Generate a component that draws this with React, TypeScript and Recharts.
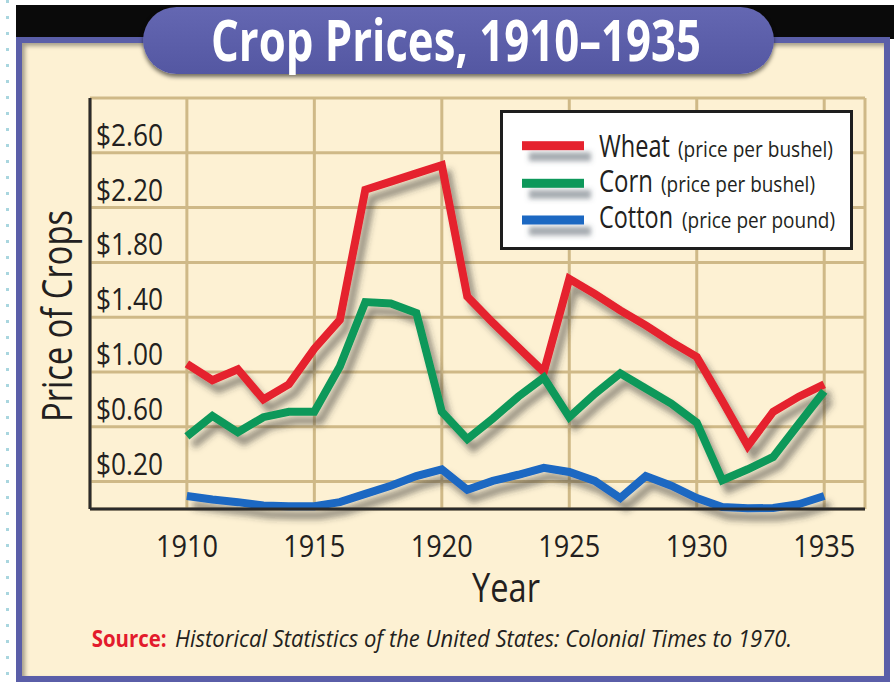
import { LineChart, Line, XAxis, YAxis, CartesianGrid, Legend } from 'recharts'

const YEARS = [
  1910, 1911, 1912, 1913, 1914, 1915, 1916, 1917, 1918, 1919, 1920, 1921, 1922,
  1923, 1924, 1925, 1926, 1927, 1928, 1929, 1930, 1931, 1932, 1933, 1934, 1935,
]
// dollars per bushel
const WHEAT = [
  1.06, 0.94, 1.02, 0.8, 0.91, 1.17, 1.38, 2.33, 2.39, 2.45, 2.51, 1.55, 1.36,
  1.18, 1.0, 1.68, 1.57, 1.45, 1.34, 1.22, 1.11, 0.79, 0.46, 0.71, 0.82, 0.91,
]
const CORN = [
  0.53, 0.68, 0.56, 0.67, 0.71, 0.71, 1.04, 1.51, 1.5, 1.43, 0.71, 0.51, 0.66,
  0.82, 0.96, 0.67, 0.84, 0.99, 0.88, 0.77, 0.63, 0.21, 0.29, 0.38, 0.62, 0.86,
]
// dollars per pound
const COTTON = [
  0.095, 0.07, 0.05, 0.025, 0.02, 0.02, 0.05, 0.11, 0.17, 0.24, 0.29, 0.14, 0.205,
  0.25, 0.3, 0.27, 0.205, 0.08, 0.24, 0.17, 0.08, 0.015, 0.005, 0.008, 0.035, 0.095,
]

const X_TICKS = [1910, 1915, 1920, 1925, 1930, 1935]
const Y_TICKS = [0.2, 0.6, 1.0, 1.4, 1.8, 2.2, 2.6]

const CROPS = ['Wheat', 'Corn', 'Cotton']
const UNITS = ['(price per bushel)', '(price per bushel)', '(price per pound)']

const data = YEARS.map((year, i) => ({
  year,
  wheat: WHEAT[i],
  corn: CORN[i],
  cotton: COTTON[i],
}))

const W = 894
const H = 683
const FONT = "'Open Sans', sans-serif"
const INK = '#231f20'
const FRAME = '#5a5ea8'
const COLORS: Record<string, string> = {
  Wheat: '#e5202e',
  Corn: '#11985a',
  Cotton: '#1b67c2',
}

// condensed text: squeeze horizontally so it spans `width` px like the narrow original face
function Fit({ x, y, width, sx, anchor = 'start', rotate = 0, children, ...rest }: any) {
  return (
    <text
      transform={`translate(${x} ${y}) rotate(${rotate}) scale(${sx} 1)`}
      x={0}
      y={0}
      textAnchor={anchor}
      textLength={width / sx}
      lengthAdjust="spacingAndGlyphs"
      fontFamily={FONT}
      {...rest}
    >
      {children}
    </text>
  )
}

function YTick({ x, y, payload }: any) {
  return (
    <Fit x={x + 6} y={y - 7} width={67} sx={0.85} fill={INK} fontSize={31}>
      {`$${payload.value.toFixed(2)}`}
    </Fit>
  )
}

function XTick({ x, y, payload }: any) {
  return (
    <Fit x={x} y={y + 48} width={62} sx={0.87} anchor="middle" fill={INK} fontSize={31}>
      {payload.value}
    </Fit>
  )
}

// legend rows: swatch centre, text baseline, label widths
const ROW_CY = [35.7, 73.3, 110]
const ROW_BASE = [46.7, 82.3, 118.3]
const NAME_LEN = [71, 54, 74]
const UNIT_X = [178, 161, 182]
const UNIT_LEN = [155, 154, 153]

function CropLegend({ payload }: any) {
  const entries = CROPS.map((name, i) => {
    const p = (payload || []).find((e: any) => e.value === name)
    return { name, unit: UNITS[i], color: p?.color ?? COLORS[name] }
  })
  return (
    <svg width={353} height={140} style={{ display: 'block', overflow: 'visible' }}>
      <defs>
        <filter id="legendShadow" filterUnits="userSpaceOnUse" x={0} y={0} width={353} height={140}>
          <feDropShadow dx={7} dy={11} stdDeviation={2.5} floodColor="#4a5560" floodOpacity={0.5} />
        </filter>
      </defs>
      <rect x={1.5} y={1.5} width={350} height={137} fill="#fff" stroke="#1e1e1e" strokeWidth={3} />
      {entries.map((e, i) => (
        <g key={e.name}>
          <rect x={22} y={ROW_CY[i] - 4.5} width={62} height={9} fill={e.color} filter="url(#legendShadow)" />
          <Fit x={99} y={ROW_BASE[i]} width={NAME_LEN[i]} sx={0.76} fill={INK} fontSize={31}>
            {e.name}
          </Fit>
          <Fit x={UNIT_X[i]} y={ROW_BASE[i]} width={UNIT_LEN[i]} sx={0.89} fill={INK} fontSize={21}>
            {e.unit}
          </Fit>
        </g>
      ))}
    </svg>
  )
}

export default function App() {
  return (
    <div style={{ position: 'relative', width: W, height: H, background: '#fff', overflow: 'hidden' }}>
      <style>{`body{margin:0} .recharts-line-curve{filter:url(#lineShadow)}`}</style>

      {/* dotted guide on the far left */}
      <div
        style={{
          position: 'absolute',
          left: 6,
          top: 0,
          width: 3,
          height: H,
          background: 'repeating-linear-gradient(to bottom, #a9d6df 0 3px, transparent 3px 16px)',
        }}
      />
      {/* black strip behind the title */}
      <div style={{ position: 'absolute', left: 16, top: 5, width: W - 16, height: 34, background: '#0a0a0a' }} />
      {/* cream panel */}
      <div
        style={{
          position: 'absolute',
          left: 16,
          top: 37,
          width: 874,
          height: 645,
          boxSizing: 'border-box',
          border: `6px solid ${FRAME}`,
          background: '#fdf1d3',
          boxShadow: 'inset 3px 3px 4px rgba(0,0,0,0.35)',
        }}
      />
      {/* title pill */}
      <div
        style={{
          position: 'absolute',
          left: 143,
          top: 7,
          width: 631,
          height: 67,
          borderRadius: 34,
          background: 'linear-gradient(#6467b2, #5457a2)',
          boxShadow: '0 3px 4px rgba(0,0,0,0.55)',
        }}
      />

      <div style={{ position: 'absolute', left: 0, top: 0 }}>
        <LineChart width={W} height={H} data={data} margin={{ top: 98, right: 29, bottom: 144, left: 30 }}>
          <defs>
            <filter id="lineShadow" filterUnits="userSpaceOnUse" x={0} y={0} width={W} height={H}>
              <feDropShadow dx={6} dy={9} stdDeviation={3} floodColor="#333" floodOpacity={0.5} />
            </filter>
          </defs>
          <CartesianGrid stroke="#cfb987" strokeWidth={3} />
          <XAxis
            dataKey="year"
            type="number"
            domain={[1906.2, 1936.6]}
            ticks={X_TICKS}
            height={30}
            tickSize={0}
            tickMargin={0}
            tickLine={false}
            axisLine={{ stroke: '#2b2b2b', strokeWidth: 3 }}
            tick={<XTick />}
            interval={0}
          />
          <YAxis
            type="number"
            domain={[0, 3]}
            ticks={Y_TICKS}
            width={60}
            tickSize={0}
            tickMargin={0}
            tickLine={false}
            axisLine={{ stroke: '#2b2b2b', strokeWidth: 3 }}
            tick={<YTick />}
            interval={0}
          />
          <Legend
            layout="vertical"
            align="center"
            verticalAlign="middle"
            wrapperStyle={{ left: 500, top: 110, width: 353, height: 140 }}
            content={<CropLegend />}
          />
          <Line
            name="Wheat"
            dataKey="wheat"
            type="linear"
            stroke={COLORS.Wheat}
            strokeWidth={8}
            strokeLinejoin="miter"
            dot={false}
            activeDot={false}
            isAnimationActive={false}
          />
          <Line
            name="Corn"
            dataKey="corn"
            type="linear"
            stroke={COLORS.Corn}
            strokeWidth={8}
            strokeLinejoin="miter"
            dot={false}
            activeDot={false}
            isAnimationActive={false}
          />
          <Line
            name="Cotton"
            dataKey="cotton"
            type="linear"
            stroke={COLORS.Cotton}
            strokeWidth={8}
            strokeLinejoin="miter"
            dot={false}
            activeDot={false}
            isAnimationActive={false}
          />
        </LineChart>
      </div>

      {/* titles and notes */}
      <svg width={W} height={H} style={{ position: 'absolute', left: 0, top: 0, pointerEvents: 'none' }}>
        <Fit x={456} y={61} width={490} sx={0.66} anchor="middle" fill="#fff" fontSize={57} fontWeight={700}>
          Crop Prices, 1910–1935
        </Fit>
        <Fit x={71.7} y={316} rotate={-90} width={212} sx={0.78} anchor="middle" fill={INK} fontSize={42}>
          Price of Crops
        </Fit>
        <Fit x={506} y={601.7} width={68} sx={0.82} anchor="middle" fill={INK} fontSize={40}>
          Year
        </Fit>
        <Fit x={91.7} y={646.7} width={75} sx={0.87} fill="#e31b2c" fontSize={24} fontWeight={700}>
          Source:
        </Fit>
        <Fit x={175} y={646.7} width={617} sx={0.82} fill={INK} fontSize={24} fontStyle="italic">
          Historical Statistics of the United States: Colonial Times to 1970.
        </Fit>
      </svg>
    </div>
  )
}
